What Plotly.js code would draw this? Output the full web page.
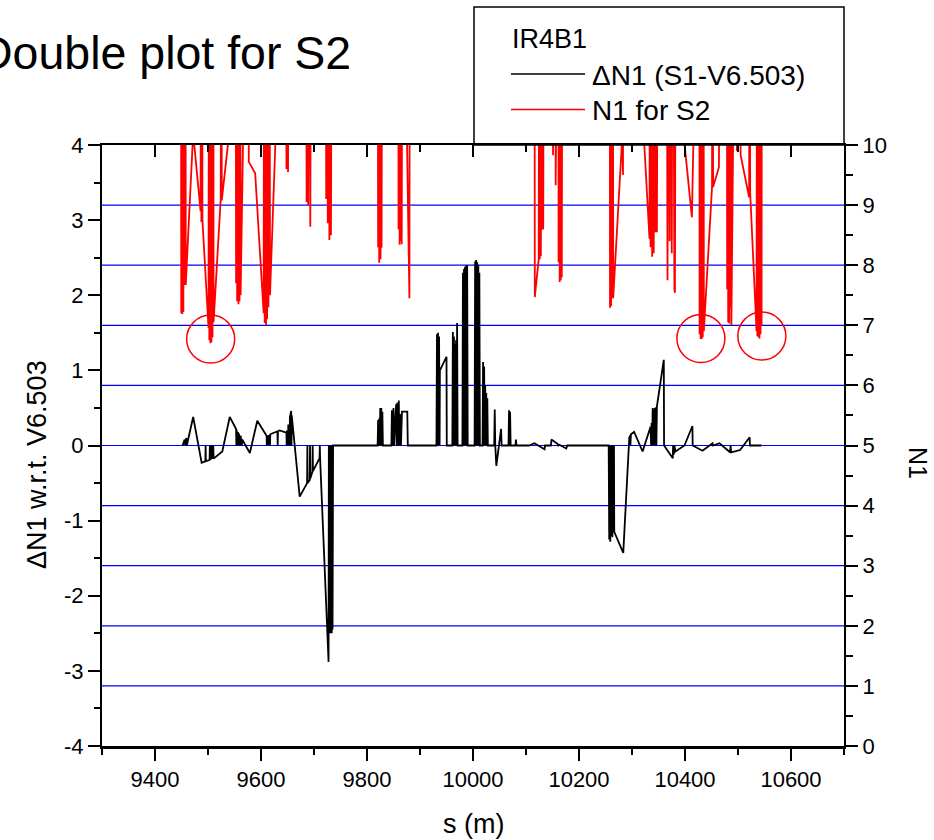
<!DOCTYPE html>
<html><head><meta charset="utf-8">
<script src="https://cdn.plot.ly/plotly-3.0.1.min.js"></script>
<style>html,body{margin:0;padding:0;background:#fff;}#chart{width:934px;height:840px;}</style>
</head><body><div id="chart"></div>
<script>
// ---- N1 for S2 (right axis); values above 10 run off the top of the frame ----
const redS = [
  9449, 9449.5, 9451, 9451.5, 9453, 9453.5, 9455, 9456, 9457.5, 9458,
  9472, 9486, 9487, 9487.5, 9489, 9489.5,
  9501, 9502, 9502.5, 9504, 9504.5, 9506, 9506.5, 9508, 9508.5, 9510, 9510.5,
  9524, 9525, 9526, 9540,
  9552, 9553, 9554.5, 9555, 9557, 9557.5, 9559, 9559.5, 9561, 9561.5,
  9575, 9577, 9589, 9605, 9606, 9607, 9609, 9609.5, 9611, 9611.5, 9613, 9614, 9616, 9617, 9628,
  9647, 9648, 9650, 9651, 9653,
  9685, 9686, 9688, 9689, 9691, 9693, 9695,
  9722, 9723, 9725, 9726, 9728, 9729, 9731, 9732, 9734,
  9820, 9821, 9822.5, 9823, 9825, 9825.5, 9827, 9827.5, 9829,
  9859, 9859.5, 9861, 9861.5, 9863, 9863.5, 9865, 9865.5, 9867, 9880, 9881,
  10116, 10116.6, 10124, 10125, 10126, 10127.5, 10128, 10130, 10130.5, 10132, 10132.5, 10134,
  10150, 10151, 10152, 10155, 10156, 10157,
  10161, 10161.5, 10163, 10163.5, 10165, 10165.5, 10167, 10167.5, 10169,
  10258, 10258.5, 10260, 10260.5, 10262, 10262.5, 10264, 10264.5, 10282, 10283, 10284,
  10322, 10333, 10334, 10335, 10337, 10338, 10340, 10341, 10343, 10344, 10346, 10347, 10349,
  10365, 10367, 10369, 10371, 10373, 10375, 10377, 10380, 10381, 10383,
  10397, 10413, 10418, 10427, 10427.5, 10429, 10429.5, 10431, 10431.5, 10433, 10433.5, 10435, 10435.5,
  10451, 10452, 10453, 10464, 10467,
  10479, 10479.5, 10481, 10481.5, 10483, 10483.5, 10485, 10485.5, 10487, 10487.5, 10489,
  10496, 10498, 10500, 10505, 10521, 10522, 10523, 10535, 10536, 10536.5, 10538, 10538.5, 10540, 10540.5, 10542, 10542.5, 10544, 10544.5, 10545
];
const redN1 = [
  15, 7.2, 15, 7.19, 15, 7.22, 15, 7.67, 15, 7.67,
  10.2, 8.9, 15, 8.72, 15, 8.75,
  6.95, 15, 6.75, 15, 6.7, 15, 6.72, 15, 6.8, 15, 7.05,
  9.1, 15, 9.08, 10.2,
  15, 7.7, 15, 7.4, 15, 7.35, 15, 7.4, 15, 7.5,
  15, 9.72, 9.53, 7.2, 15, 7.04, 15, 7.0, 15, 7.1, 15, 7.3, 15, 7.5, 10.3,
  15, 9.6, 15, 9.55, 15,
  15, 9.05, 15, 9.0, 15, 8.64, 15,
  15, 9.1, 15, 8.7, 15, 8.42, 15, 8.5, 15,
  15, 8.3, 15, 8.04, 15, 8.1, 15, 8.29, 15,
  15, 8.6, 15, 8.34, 15, 8.4, 15, 8.35, 15, 7.45, 15,
  15, 7.47, 8.1, 15, 8.1, 15, 8.15, 15, 8.59, 15, 8.6, 15,
  15, 9.83, 15, 15, 9.33, 15,
  15, 8.05, 15, 7.72, 15, 7.75, 15, 7.8, 15,
  15, 7.29, 15, 7.32, 15, 7.45, 15, 7.45, 10.2, 9.5, 15,
  10.2, 8.44, 15, 8.3, 15, 8.14, 15, 8.2, 15, 8.55, 15, 8.55, 15,
  15, 7.75, 15, 8.4, 15, 8.2, 15, 7.6, 7.54, 15,
  10.2, 8.8, 10.2, 15, 6.85, 15, 6.77, 15, 6.77, 15, 6.8, 15, 6.9,
  9.3, 15, 9.3, 9.63, 15,
  15, 7.6, 15, 7.05, 15, 7.03, 15, 7.3, 15, 7.0, 15,
  15, 9.9, 15, 9.83, 9.13, 15, 9.2, 6.9, 15, 6.82, 15, 6.8, 15, 6.78, 15, 6.85, 15, 7.0, 15
];

// ---- ΔN1 (S1-V6.503) (left axis) ----
const blackS = [
  9452, 9456, 9457, 9459, 9460, 9472, 9488, 9495, 9495.5, 9496, 9503, 9503.5, 9504, 9505.5, 9506, 9507.5, 9508, 9510, 9510.5, 9527, 9541,
  9553, 9553.5, 9554, 9556, 9556.5, 9558, 9558.5, 9561, 9561.5, 9564, 9564.5, 9579, 9593,
  9610.5, 9611, 9612, 9614, 9614.5, 9617, 9617.5, 9631, 9631.5, 9632, 9635,
  9648, 9648.5, 9649, 9651, 9651.5, 9654, 9654.5, 9657, 9657.5, 9658, 9673,
  9687, 9687.5, 9688, 9692, 9692.5, 9693, 9697, 9697.5, 9698, 9710.5, 9711, 9711.5,
  9727.5, 9728, 9729, 9729.5, 9730.5, 9731, 9732, 9732.5, 9733.5, 9734, 9735, 9736,
  9820, 9821, 9822, 9823, 9824, 9825, 9826, 9827, 9828, 9829, 9830,
  9846, 9847, 9848, 9850, 9851, 9855, 9856, 9857, 9858, 9860, 9861, 9863, 9864, 9866, 9876, 9877,
  9931, 9932, 9933, 9934, 9935, 9936, 9937, 9937.5, 9950, 9950.5,
  9961, 9962, 9963, 9964, 9965, 9966, 9967, 9968, 9969, 9970, 9971,
  9980, 9981, 9982, 9983, 9984, 9985, 9986, 9987, 9988, 9989, 9990,
  10003, 10004, 10005, 10006, 10007, 10008, 10009, 10010, 10011, 10012, 10013,
  10018, 10019, 10020, 10021, 10022, 10023, 10024, 10025, 10026, 10027, 10028,
  10040, 10041, 10042, 10044, 10053, 10054, 10067, 10068, 10069, 10070, 10071, 10080, 10081, 10082,
  10106, 10116, 10135, 10136, 10147, 10148, 10160, 10161, 10163, 10176, 10178,
  10256, 10257, 10258, 10259, 10260, 10261, 10262, 10263, 10264, 10265, 10266, 10266.5, 10283.5,
  10295, 10295.5, 10296.5, 10297, 10298, 10304, 10320,
  10335, 10336, 10337, 10338, 10339, 10340, 10341, 10342, 10343, 10344, 10345, 10346, 10347, 10360, 10360.5,
  10377, 10377.5, 10379, 10380, 10382, 10399, 10414, 10414.5, 10433, 10452, 10453, 10465,
  10485, 10486, 10487, 10504, 10522, 10522.5, 10544
];
const blackDN1 = [
  0, 0.08, 0, 0.1, 0, 0.38, -0.23, -0.21, 0, -0.21, -0.19, 0, -0.19, 0, -0.185, 0, -0.18, 0, -0.175, -0.08, 0.38,
  0.22, 0, 0.21, 0, 0.18, 0, 0.16, 0, 0.13, 0, 0.08, -0.1, 0.33,
  0.13, 0, 0.13, 0, 0.14, 0, 0.15, 0.19, 0, 0.19, 0.2,
  0.17, 0, 0.2, 0, 0.28, 0, 0.38, 0.46, 0, 0.4, -0.68,
  -0.5, 0, -0.5, -0.46, 0, -0.44, -0.35, 0, -0.34, -0.17, 0, -0.17,
  -2.88, 0, -2.5, 0, -2.5, 0, -2.5, 0, -2.5, 0, -2.45, 0,
  0, 0.34, 0, 0.36, 0, 0.5, 0, 0.5, 0, 0.45, 0,
  0, 0.47, 0, 0.5, 0, 0.55, 0, 0.57, 0, 0.6, 0, 0.42, 0, 0.45, 0.45, 0,
  0, 1.48, 0, 1.5, 0, 1.45, 0, 1.0, 1.18, 0,
  0, 1.51, 0, 1.45, 0, 1.35, 0, 1.4, 0, 1.63, 0,
  0, 2.3, 0, 2.35, 0, 2.38, 0, 2.4, 0, 2.4, 0,
  0, 2.45, 0, 2.47, 0, 2.44, 0, 2.4, 0, 2.3, 0,
  0, 1.11, 0, 1.05, 0, 0.8, 0, 0.7, 0, 0.63, 0,
  0, 0.48, 0, -0.27, 0.22, 0, 0, 0.47, 0, 0.45, 0, 0, 0.08, 0,
  0, 0.03, -0.05, 0, 0, 0.08, 0.02, 0, 0.01, -0.04, 0,
  0, -1.25, 0, -1.28, 0, -1.2, 0, -1.22, 0, -1.15, 0, -1.15, -1.43,
  0.12, 0, 0.14, 0, 0.15, 0.18, -0.08,
  0.25, 0, 0.3, 0, 0.5, 0, 0.48, 0, 0.5, 0, 0.51, 0, 0.52, 1.14, 0,
  -0.17, 0, -0.12, 0, -0.08, 0, 0.26, 0, -0.07, 0.03, 0, 0.03,
  -0.09, 0, -0.09, -0.06, 0.11, 0, 0
];

// circled minima of N1
const circledS = [9505, 10430, 10545];
const circledN1 = [6.77, 6.78, 6.82];

// tick labels
const xTickVals = [9400, 9600, 9800, 10000, 10200, 10400, 10600];
const xTickText = ['9400', '9600', '9800', '10000', '10200', '10400', '10600'];
const leftTickVals = [-4, -3, -2, -1, 0, 1, 2, 3, 4];
const leftTickText = ['-4', '-3', '-2', '-1', '0', '1', '2', '3', '4'];
const rightTickVals = [0, 1, 2, 3, 4, 5, 6, 7, 8, 9, 10];
const rightTickText = ['0', '1', '2', '3', '4', '5', '6', '7', '8', '9', '10'];
const gridN1 = [1, 2, 3, 4, 5, 6, 7, 8, 9];

// texts
const titleText = 'Double plot for S2';
const legendTitle = 'IR4B1';
const blackName = '\u0394N1 (S1-V6.503)';
const redName = 'N1 for S2';
const xTitle = 's (m)';
const yLeftTitle = '\u0394N1 w.r.t. V6.503';
const yRightTitle = 'N1';

if (redS.length !== redN1.length || blackS.length !== blackDN1.length) {
  throw new Error('length mismatch ' + redS.length + '/' + redN1.length + ' ' + blackS.length + '/' + blackDN1.length);
}

const FONT = 'Liberation Sans, Arial, Helvetica, sans-serif';
const L = 102, R = 90, T = 145, B = 94, W = 934, H = 840;
const PW = W - L - R, PH = H - T - B;
const px = v => (v - L) / PW;
const py = v => (H - B - v) / PH;

const traces = [
  {x: blackS, y: blackDN1, xaxis: 'x', yaxis: 'y', mode: 'lines', name: blackName,
   line: {color: '#000000', width: 1.8}, hoverinfo: 'skip'},
  {x: redS, y: redN1, xaxis: 'x', yaxis: 'y2', mode: 'lines', name: redName,
   line: {color: '#ff0000', width: 1.8}, hoverinfo: 'skip'},
  {x: [], y: [], xaxis: 'x3', yaxis: 'y', mode: 'lines', showlegend: false, hoverinfo: 'skip'}
];

const tickFont = {family: FONT, size: 22, color: '#000'};
const layout = {
  width: W, height: H,
  margin: {l: L, r: R, t: T, b: B, pad: 0},
  paper_bgcolor: '#fff', plot_bgcolor: '#fff',
  showlegend: false, hovermode: false,
  font: {family: FONT, color: '#000'},
  xaxis: {
    range: [9300, 10700], tickmode: 'array', tickvals: xTickVals, ticktext: xTickText,
    ticks: 'outside', ticklen: 12, tickwidth: 2, tickcolor: '#000',
    minor: {dtick: 100, tick0: 9300, ticks: 'outside', ticklen: 6, tickwidth: 2, tickcolor: '#000'},
    showline: true, linecolor: '#000', linewidth: 2.5, showgrid: false, zeroline: false,
    tickfont: tickFont, anchor: 'y'
  },
  xaxis3: {
    range: [9300, 10700], overlaying: 'x', side: 'top', anchor: 'y',
    tickmode: 'array', tickvals: xTickVals, showticklabels: false,
    ticks: 'inside', ticklen: 12, tickwidth: 2, tickcolor: '#000',
    minor: {dtick: 100, tick0: 9300, ticks: 'inside', ticklen: 7, tickwidth: 2, tickcolor: '#000'},
    showline: true, linecolor: '#000', linewidth: 2, showgrid: false, zeroline: false
  },
  yaxis: {
    range: [-4, 4], tickmode: 'array', tickvals: leftTickVals, ticktext: leftTickText,
    ticks: 'outside', ticklen: 12, tickwidth: 2, tickcolor: '#000',
    minor: {dtick: 0.5, tick0: 0, ticks: 'outside', ticklen: 6, tickwidth: 2, tickcolor: '#000'},
    showline: true, linecolor: '#000', linewidth: 2, showgrid: false, zeroline: false,
    tickfont: tickFont, anchor: 'x'
  },
  yaxis2: {
    range: [0, 10], overlaying: 'y', side: 'right', anchor: 'x',
    tickmode: 'array', tickvals: rightTickVals, ticktext: rightTickText,
    ticks: 'outside', ticklen: 12, tickwidth: 2, tickcolor: '#000',
    minor: {dtick: 0.5, tick0: 0, ticks: 'outside', ticklen: 7, tickwidth: 2, tickcolor: '#000'},
    showline: true, linecolor: '#000', linewidth: 2,
    showgrid: false, zeroline: false,
    tickfont: tickFont
  },
  shapes: gridN1.map(v => ({
    type: 'line', xref: 'paper', yref: 'y2', x0: 0, x1: 1, y0: v, y1: v,
    line: {color: '#0000ff', width: 1.2}, layer: 'below'
  })).concat([
    {type: 'rect', xref: 'paper', yref: 'paper', x0: px(474), x1: px(844), y0: py(145), y1: py(7),
     line: {color: '#000', width: 1.5}, fillcolor: 'rgba(0,0,0,0)', layer: 'above'},
    {type: 'line', xref: 'paper', yref: 'paper', x0: px(511), x1: px(585), y0: py(74), y1: py(74),
     line: {color: '#000', width: 1.4}},
    {type: 'line', xref: 'paper', yref: 'paper', x0: px(511), x1: px(585), y0: py(109.5), y1: py(109.5),
     line: {color: '#ff0000', width: 1.4}}
  ]).concat(circledS.map((s, i) => ({
    type: 'circle', xref: 'x', yref: 'y2', xsizemode: 'pixel', ysizemode: 'pixel',
    xanchor: s, yanchor: circledN1[i], x0: -24, x1: 24, y0: -24, y1: 24,
    line: {color: '#ff0000', width: 1.5}, layer: 'above'
  }))),
  annotations: [
    {text: titleText, xref: 'paper', yref: 'paper', x: px(353), y: py(53), xanchor: 'right', yanchor: 'middle',
     showarrow: false, font: {family: FONT, size: 46.5, color: '#000'}},
    {text: legendTitle, xref: 'paper', yref: 'paper', x: px(510), y: py(39), xanchor: 'left', yanchor: 'middle',
     showarrow: false, font: {family: FONT, size: 27, color: '#000'}},
    {text: blackName, xref: 'paper', yref: 'paper', x: px(590), y: py(75), xanchor: 'left', yanchor: 'middle',
     showarrow: false, font: {family: FONT, size: 28, color: '#000'}},
    {text: redName, xref: 'paper', yref: 'paper', x: px(590), y: py(110), xanchor: 'left', yanchor: 'middle',
     showarrow: false, font: {family: FONT, size: 28, color: '#000'}},
    {text: xTitle, xref: 'paper', yref: 'paper', x: px(473), y: py(824), xanchor: 'center', yanchor: 'middle',
     showarrow: false, font: {family: FONT, size: 27, color: '#000'}},
    {text: yLeftTitle, xref: 'paper', yref: 'paper', x: px(37), y: py(465), xanchor: 'center', yanchor: 'middle',
     textangle: -90, showarrow: false, font: {family: FONT, size: 27, color: '#000'}},
    {text: yRightTitle, xref: 'paper', yref: 'paper', x: px(918), y: py(463), xanchor: 'center', yanchor: 'middle',
     textangle: 90, showarrow: false, font: {family: FONT, size: 25, color: '#000'}}
  ]
};

Plotly.newPlot('chart', traces, layout, {staticPlot: true, displayModeBar: false});
</script>
</body></html>
